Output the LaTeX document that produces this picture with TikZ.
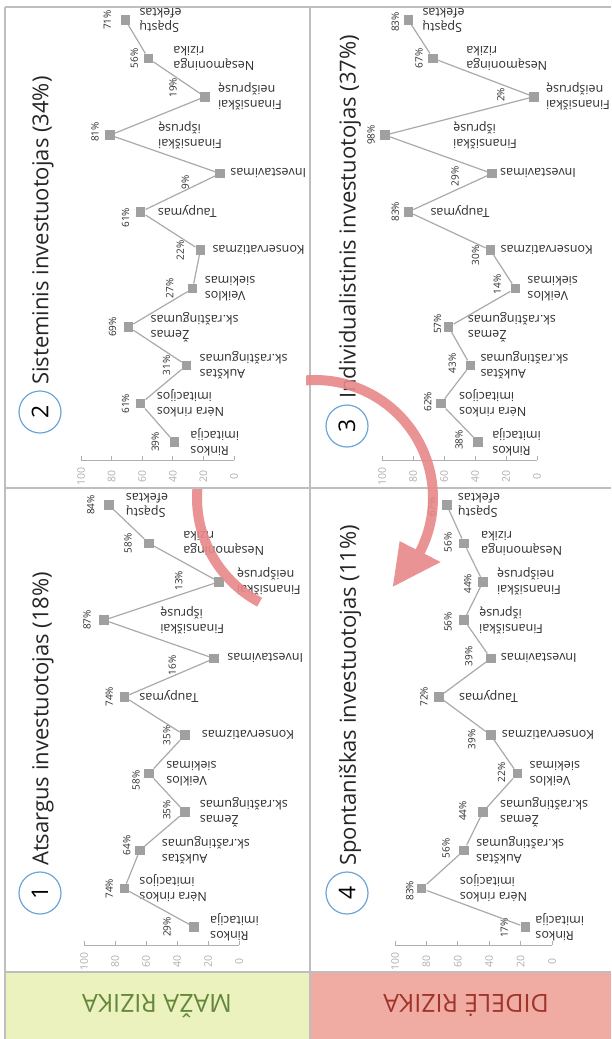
\documentclass[tikz,border=0pt]{standalone}
\usepackage{fontspec}
\setmainfont{Open Sans}
\definecolor{gridgray}{RGB}{190,190,190}
\definecolor{markgray}{RGB}{160,160,160}
\definecolor{linegray}{RGB}{170,170,170}
\definecolor{tickgray}{RGB}{175,175,175}
\definecolor{textdark}{RGB}{45,45,45}
\definecolor{lowrisk}{RGB}{235,242,190}
\definecolor{highrisk}{RGB}{240,172,162}
\definecolor{lowtext}{RGB}{100,135,60}
\definecolor{hightext}{RGB}{160,52,42}
\definecolor{ringblue}{RGB}{110,165,215}
\definecolor{arrowred}{RGB}{232,136,138}

% category names, bottom row first
\newcommand\catlabel[1]{\ifcase#1\or Rinkos\\imitacija\or Nėra rinkos\\imitacijos\or Aukštas\\sk.raštingumas\or Žemas\\sk.raštingumas\or Veiklos\\siekimas\or Konservatizmas\or Taupymas\or Investavimas\or Finansiškai\\išprusę\or Finansiškai\\neišprusę\or Nesąmoninga\\rizika\or Spąstų\\efektas\fi}

% one profile chart: name, x of value 0, px per percent, y of first row, data
% data items: value / label shift left / label shift down / category gap
\newcommand\chartpanel[5]{%
  \pgfmathsetmacro\axy{#4+18}
  \foreach \t in {0,20,...,100}{
    \pgfmathsetmacro\tx{#2-\t*#3}
    \coordinate (#1-k\t) at (\tx,\axy);
    \draw[axisline] (#1-k\t) -- ++(0,-4);
    \node[tick] (#1-n\t) at (\tx,\axy+16) {\t};
  }
  \draw[axisline] (#1-k100) -- (#1-k0);
  \foreach \v/\pd/\py/\ld [count=\i] in {#5}{
    \pgfmathsetmacro\mx{#2-\v*#3}
    \pgfmathsetmacro\my{#4-(\i-1)*38.36}
    \node[marker] (#1-\i) at (\mx,\my) {};
    \node[pct] (#1-\i-v) at (\mx-\pd,\my+\py) {\v\%};
    \node[cat] (#1-\i-c) at (\mx+\ld,\my) {\catlabel{\i}};
  }
  \foreach \i [evaluate=\i as \j using int(\i+1)] in {1,...,11}
    \draw[series] (#1-\i) -- (#1-\j);
}

\begin{document}
\begin{tikzpicture}[x=1pt,y=-1pt,
  grid/.style={draw=gridgray,line width=1.5pt},
  axisline/.style={draw=tickgray,line width=1pt},
  tick/.style={rotate=90,inner sep=0pt,text=tickgray,font=\fontsize{10.5}{12}\selectfont},
  marker/.style={rectangle,fill=markgray,minimum size=9.5pt,inner sep=0pt},
  series/.style={draw=linegray,line width=1.2pt},
  pct/.style={rotate=90,inner sep=0pt,text=textdark,font=\fontsize{10}{12}\selectfont},
  cat/.style={rotate=180,anchor=east,align=right,inner sep=0pt,text=textdark,font=\fontsize{12.5}{15}\selectfont},
  ptitle/.style={rotate=90,anchor=west,inner sep=0pt,text=black!85,font=\fontsize{22}{26}\selectfont},
  ring/.style={circle,draw=ringblue,line width=1.2pt,fill=white,minimum size=42pt,inner sep=0pt,font=\fontsize{23}{26}\selectfont},
  risk/.style={rotate=180,inner sep=0pt,font=\fontsize{25}{28}\selectfont}]

\useasboundingbox (0,0) rectangle (611,1039);
\fill[white] (0,0) rectangle (611,1039);

% risk strips
\fill[lowrisk] (5,972) rectangle (310,1039);
\fill[highrisk] (310,972) rectangle (611,1039);
\node[risk,text=lowtext] (low) at (157,1006) {MAŽA RIZIKA};
\node[risk,text=hightext] (high) at (466,1006) {DIDELĖ RIZIKA};

% frame and dividers
\draw[grid] (5,7) -- (5,1039);
\draw[grid] (310,7) -- (310,1039);
\draw[grid] (5,7) -- (611,7);
\draw[grid] (5,488) -- (611,488);
\draw[grid] (5,972) -- (611,972);

% panel titles
\node[ring] (r1) at (40,893) {\rotatebox{90}{1}};
\node[ptitle] (t1) at (43,866) {Atsargus investuotojas (18\%)};
\node[ring] (r2) at (40,412) {\rotatebox{90}{2}};
\node[ptitle] (t2) at (43,385) {Sisteminis investuotojas (34\%)};
\node[ring] (r3) at (347,426) {\rotatebox{90}{3}};
\node[ptitle] (t3) at (350,399) {Individualistinis investuotojas (37\%)};
\node[ring] (r4) at (347,893) {\rotatebox{90}{4}};
\node[ptitle] (t4) at (350,866) {Spontaniškas investuotojas (11\%)};

% profiles
\chartpanel{A}{239}{1.55}{927}{29/27/0/16, 74/15/0/15, 64/13/-5/22, 35/18/-2/15, 58/13/7/17, 35/18/0/17, 74/15/0/15, 16/42/7/13, 87/17/0/56, 13/40/-1/18, 58/21/0/34, 84/18/0/17}
\chartpanel{B}{234}{1.53}{442}{39/19/0/16, 61/15/0/16, 31/20/0/13, 69/16/0/22, 27/23/0/12, 22/20/0/12, 61/15/6/17, 9/35/9/10, 81/15/-3/48, 19/32/-9/13, 56/14/0/25, 71/18/0/14}
\chartpanel{C}{537}{1.55}{442}{38/19/-2/14, 62/13/-2/18, 43/18/-2/10, 57/11/-3/19, 14/18/-4/12, 30/15/5/10, 83/13/0/22, 29/37/3/8, 98/14/0/68, 2/33/-2/12, 67/14/0/33, 83/13/2/14}
\chartpanel{D}{552}{1.57}{927}{17/21/1/10, 83/12/2/38, 56/18/-2/12, 44/20/-1/17, 22/16/-1/12, 39/19/4/11, 72/15/0/20, 39/22/-2/10, 56/16/2/15, 44/15/2/14, 56/16/-1/17, 67/15/2/11}

% curved transition arrow, passing behind the upper left panel
\begin{scope}
  \clip (0,489) -- (306,489) -- (306,0) -- (611,0) -- (611,1039) -- (0,1039) -- cycle;
  \begin{scope}[transparency group,opacity=0.9]
    \draw[arrowred,line width=10pt] plot[domain=118:389,samples=80,smooth] ({315+118*cos(\x)},{498+118*sin(\x)});
    \fill[arrowred] ({315+141*cos(27)},{498+141*sin(27)}) -- ({315+118*cos(48.7)},{498+118*sin(48.7)}) -- ({315+95*cos(27)},{498+95*sin(27)}) -- cycle;
  \end{scope}
\end{scope}
\end{tikzpicture}
\end{document}
